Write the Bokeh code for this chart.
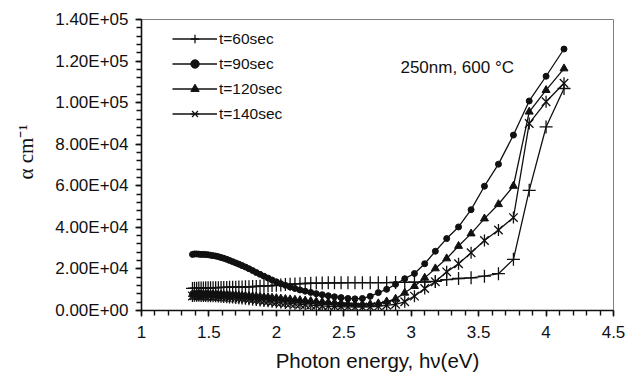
from bokeh.plotting import figure
from bokeh.models import (Legend, LegendItem, Label, FixedTicker, ColumnDataSource,
                          Range1d)
from bokeh.embed import file_html
from bokeh.resources import INLINE
import numpy as np

# ---------------- data ----------------
energy_ev = [
    1.378, 1.393, 1.409, 1.425, 1.442, 1.459, 1.476, 1.494, 1.512, 1.531,
    1.550, 1.570, 1.590, 1.610, 1.632, 1.653, 1.676, 1.699, 1.722, 1.746,
    1.771, 1.797, 1.824, 1.851, 1.879, 1.908, 1.938, 1.968, 2.000, 2.033,
    2.067, 2.102, 2.138, 2.175, 2.214, 2.255, 2.296, 2.340, 2.385, 2.431,
    2.480, 2.531, 2.583, 2.638, 2.696, 2.756, 2.818, 2.884, 2.952, 3.024,
    3.100, 3.179, 3.263, 3.351, 3.444, 3.543, 3.647, 3.758, 3.875, 4.000,
    4.133,
]

alpha_60 = [
    10600, 10700, 10700, 10800, 10800, 10800, 10900, 10900, 10900, 11000,
    11000, 11000, 11100, 11100, 11100, 11200, 11200, 11200, 11300, 11300,
    11400, 11400, 11500, 11600, 11700, 11800, 11900, 12000, 12200, 12300,
    12500, 12600, 12800, 12900, 13000, 13100, 13200, 13200, 13300, 13300,
    13300, 13400, 13400, 13400, 13400, 13400, 13400, 13500, 13500, 13600,
    13700, 14000, 14900, 15400, 15700, 16500, 17700, 24600, 57800, 88300,
    106800,
]

alpha_90 = [
    27000, 27200, 27200, 27100, 27000, 27000, 26900, 26800, 26600, 26400,
    26200, 25900, 25500, 25100, 24600, 24100, 23500, 22900, 22300, 21600,
    20900, 20100, 19200, 18300, 17400, 16500, 15600, 14700, 13800, 12900,
    12100, 11300, 10600, 9900, 9300, 8700, 8100, 7600, 7100, 6600,
    6200, 5800, 5600, 5800, 6800, 8600, 10200, 12600, 15300, 17800,
    22500, 28500, 34600, 40200, 48500, 59800, 70400, 84400, 100800, 112700,
    125800,
]

alpha_120 = [
    7800, 7900, 7900, 7900, 7800, 7800, 7800, 7800, 7700, 7700,
    7700, 7600, 7600, 7500, 7500, 7400, 7300, 7300, 7200, 7100,
    7000, 6900, 6800, 6700, 6600, 6400, 6300, 6100, 5900, 5700,
    5500, 5300, 5100, 4900, 4700, 4500, 4300, 4100, 3900, 3700,
    3500, 3300, 3100, 3000, 3000, 3400, 4300, 5600, 8500, 11700,
    15700, 20200, 25000, 31000, 37000, 44200, 51100, 59900, 95600, 106000,
    116400,
]

alpha_140 = [
    7000, 7100, 7100, 7100, 7000, 7000, 7000, 6900, 6900, 6800,
    6800, 6700, 6600, 6500, 6400, 6300, 6200, 6000, 5900, 5800,
    5600, 5400, 5200, 5000, 4800, 4600, 4400, 4200, 4000, 3800,
    3600, 3400, 3200, 3000, 2800, 2600, 2400, 2200, 2000, 1900,
    1800, 1700, 1600, 1600, 1700, 2000, 2500, 3000, 4200, 6900,
    10600, 13800, 18600, 22500, 27800, 33700, 38700, 44700, 90000, 100400,
    109300,
]

series_labels = ["t=60sec", "t=90sec", "t=120sec", "t=140sec"]

x_ticks = [1, 1.5, 2, 2.5, 3, 3.5, 4, 4.5]
x_tick_labels = ["1", "1.5", "2", "2.5", "3", "3.5", "4", "4.5"]
y_ticks = [0, 20000, 40000, 60000, 80000, 100000, 120000, 140000]
y_tick_labels = ["0.00E+00", "2.00E+04", "4.00E+04", "6.00E+04",
                 "8.00E+04", "1.00E+05", "1.20E+05", "1.40E+05"]

annotation_text = "250nm, 600 \u00b0C"
x_title = "Photon energy, h\u03bd(eV)"
y_title = "\u00a0\u00a0\u00a0\u00a0\u00a0\u03b1 cm\u207b\u00b9"

# ---------------- figure ----------------
SANS = "Liberation Sans"
INK = "#111111"

p = figure(width=630, height=376, output_backend="svg", toolbar_location=None,
           x_range=Range1d(1, 4.5), y_range=Range1d(0, 140000),
           min_border_left=141, min_border_right=17, min_border_top=19,
           min_border_bottom=66)
p.background_fill_color = "white"
p.border_fill_color = "white"
p.xgrid.visible = False
p.ygrid.visible = False
p.outline_line_color = "#808080"
p.outline_line_width = 1

src = ColumnDataSource(dict(x=energy_ev, a60=alpha_60, a90=alpha_90,
                            a120=alpha_120, a140=alpha_140))

LW = 1.3
l60 = p.line("x", "a60", source=src, line_color=INK, line_width=LW)
m60 = p.scatter("x", "a60", source=src, marker="cross", size=13,
                line_color=INK, line_width=1.3)

l90 = p.line("x", "a90", source=src, line_color=INK, line_width=LW)
m90 = p.scatter("x", "a90", source=src, marker="circle", size=6,
                fill_color=INK, line_color=INK)

l120 = p.line("x", "a120", source=src, line_color=INK, line_width=LW)
m120 = p.scatter("x", "a120", source=src, marker="triangle", size=8,
                 fill_color=INK, line_color=INK)

l140 = p.line("x", "a140", source=src, line_color=INK, line_width=LW)
m140a = p.scatter("x", "a140", source=src, marker="x", size=12,
                  line_color=INK, line_width=1.3)
m140b = p.scatter("x", "a140", source=src, marker="dash", size=12, angle=np.pi / 2,
                  line_color=INK, line_width=1.3)

# axes
for ax in (p.xaxis[0], p.yaxis[0]):
    ax.axis_line_color = INK
    ax.axis_line_width = 1.6
    ax.major_tick_line_color = INK
    ax.minor_tick_line_color = INK
    ax.major_tick_line_width = 1.4
    ax.minor_tick_line_width = 1.4
    ax.major_tick_in = 0
    ax.major_tick_out = 6
    ax.minor_tick_in = 0
    ax.minor_tick_out = 5
    ax.major_label_text_font = SANS
    ax.major_label_text_font_size = "17px"
    ax.major_label_text_color = INK

p.xaxis.ticker = FixedTicker(ticks=x_ticks,
                             minor_ticks=list(np.round(np.arange(1.0, 4.5001, 0.1), 2)))
p.xaxis.major_label_overrides = dict(zip(x_ticks, x_tick_labels))
p.xaxis.major_label_standoff = 9
p.xaxis.axis_label = x_title
p.xaxis.axis_label_text_font = SANS
p.xaxis.axis_label_text_font_style = "normal"
p.xaxis.axis_label_text_font_size = "20.5px"
p.xaxis.axis_label_text_color = INK
p.xaxis.axis_label_standoff = 8

p.yaxis.ticker = FixedTicker(ticks=y_ticks,
                             minor_ticks=list(range(0, 140001, 4000)))
p.yaxis.major_label_overrides = dict(zip(y_ticks, y_tick_labels))
p.yaxis.major_label_standoff = 7
p.yaxis.axis_label = y_title
p.yaxis.axis_label_text_font = "Liberation Serif"
p.yaxis.axis_label_text_font_style = "normal"
p.yaxis.axis_label_text_font_size = "21px"
p.yaxis.axis_label_text_color = INK
p.yaxis.axis_label_standoff = 14

# annotation
p.add_layout(Label(x=2.92, y=117000, text=annotation_text, text_font=SANS,
                   text_font_size="17px", text_color=INK, text_baseline="middle"))

# legend
items = [
    LegendItem(label=series_labels[0], renderers=[l60, m60]),
    LegendItem(label=series_labels[1], renderers=[l90, m90]),
    LegendItem(label=series_labels[2], renderers=[l120, m120]),
    LegendItem(label=series_labels[3], renderers=[l140, m140a, m140b]),
]
legend = Legend(items=items, location=(31, 186), glyph_width=45, glyph_height=21,
                label_height=21, spacing=4, padding=0, margin=0,
                border_line_color=None, background_fill_alpha=0,
                label_text_font=SANS, label_text_font_size="15.5px",
                label_text_color=INK, label_standoff=2)
p.add_layout(legend)

open("out.html", "w").write(file_html(p, INLINE))
